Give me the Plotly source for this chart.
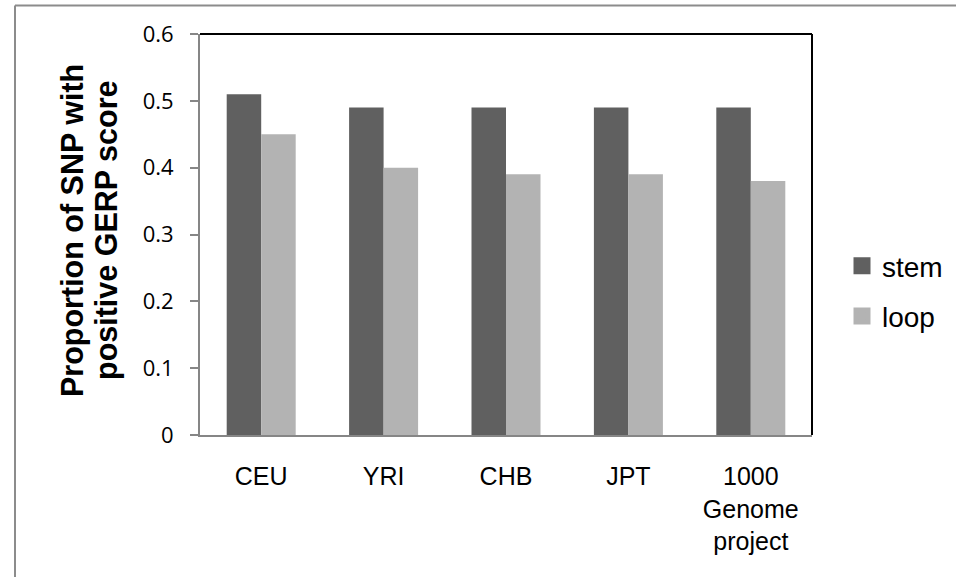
import plotly.graph_objects as go

categories = ["CEU", "YRI", "CHB", "JPT", "1000<br>Genome<br>project"]
stem = [0.51, 0.49, 0.49, 0.49, 0.49]
loop = [0.45, 0.40, 0.39, 0.39, 0.38]
series_names = ["stem", "loop"]
colors = ["#606060", "#b3b3b3"]
y_ticks = [0, 0.1, 0.2, 0.3, 0.4, 0.5, 0.6]

W, H = 956, 577
L, R, T, B = 200, 144, 34, 142
pw, ph = W - L - R, H - T - B

def px_x(p):
    return (p - L) / pw

def px_y(p):
    return (H - B - p) / ph

fig = go.Figure()
for name, vals, col in zip(series_names, [stem, loop], colors):
    fig.add_trace(go.Bar(x=categories, y=vals, name=name, marker_color=col,
                         marker_line_width=0, showlegend=False))
# legend-only entries (on a hidden overlay axis so they do not take bar slots)
for name, col in zip(series_names, colors):
    fig.add_trace(go.Bar(x=[None], y=[None], name=name, marker_color=col,
                         marker_line_color=col, marker_line_width=5,
                         xaxis="x2", yaxis="y2", legendgroup=name))

fig.update_layout(
    width=W, height=H,
    margin=dict(l=L, r=R, t=T, b=B, autoexpand=False),
    paper_bgcolor="white", plot_bgcolor="white",
    barmode="group", bargap=0.4363, bargroupgap=0,
    xaxis=dict(showgrid=False, showline=True, linecolor="#868686", linewidth=2,
               ticks="", tickfont=dict(family="Liberation Sans, Arial", size=25, color="black"),
               ticklabelstandoff=18, zeroline=False, fixedrange=True),
    yaxis=dict(range=[0, 0.6], tickvals=y_ticks, showgrid=False, showline=True,
               linecolor="#868686", linewidth=2, ticks="outside", ticklen=8,
               tickcolor="#868686", tickwidth=2,
               tickfont=dict(family="Open Sans", size=22, color="black"),
               ticklabelstandoff=12, zeroline=False, fixedrange=True),
    xaxis2=dict(overlaying="x", visible=False),
    yaxis2=dict(overlaying="y", visible=False),
    legend=dict(x=px_x(842), y=px_y(291), xanchor="left", yanchor="middle",
                font=dict(family="Liberation Sans, Arial", size=28, color="black"),
                tracegroupgap=11, traceorder="grouped", bgcolor="rgba(0,0,0,0)"),
    showlegend=True,
)

title_lines = ["Proportion of SNP with", "positive GERP score"]
for line, cx in zip(title_lines, [72, 106]):
    fig.add_annotation(text=line, textangle=-90, xref="paper", yref="paper",
                       x=px_x(cx), y=px_y(231), xanchor="center", yanchor="middle",
                       showarrow=False,
                       font=dict(family="Liberation Sans, Arial", size=30.5,
                                 color="black", weight="bold"))

# top and right frame of plot area
fig.add_shape(type="line", xref="paper", yref="paper", x0=0, x1=1, y0=1, y1=1,
              line=dict(color="black", width=2))
fig.add_shape(type="line", xref="paper", yref="paper", x0=1, x1=1, y0=0, y1=1,
              line=dict(color="black", width=2))
# outer chart border (left/top visible)
fig.add_shape(type="line", xref="paper", yref="paper", x0=px_x(15), x1=px_x(15),
              y0=px_y(5.5), y1=px_y(600), line=dict(color="#8c8c8c", width=2))
fig.add_shape(type="line", xref="paper", yref="paper", x0=px_x(15), x1=px_x(980),
              y0=px_y(5.5), y1=px_y(5.5), line=dict(color="#8c8c8c", width=2))

fig.write_html("out.html", config=dict(displayModeBar=False, staticPlot=True),
               post_script="document.body.style.margin='0';")
